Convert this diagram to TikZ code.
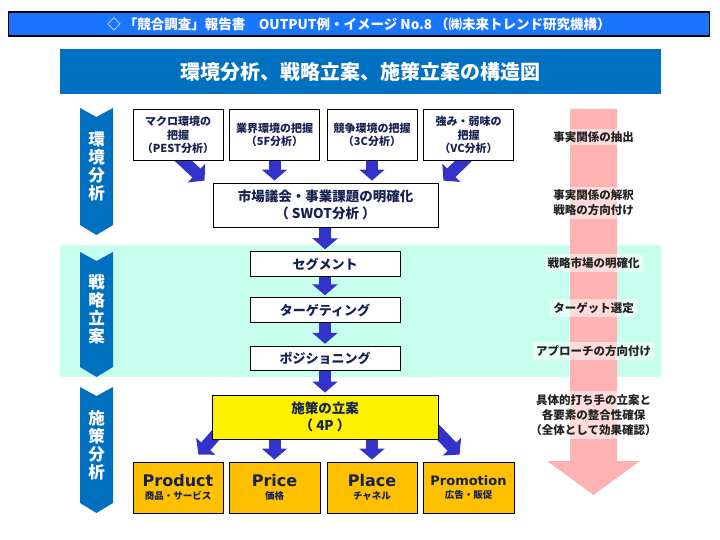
\documentclass[tikz,border=0pt]{standalone}
\usepackage{fontspec}
\setmainfont{Noto Sans CJK JP}
\newfontfamily\latinfont{DejaVu Sans}
\usetikzlibrary{arrows.meta,backgrounds}

\definecolor{hdrblue}{RGB}{26,117,255}
\definecolor{titleblue}{RGB}{0,112,192}
\definecolor{arrblue}{RGB}{51,51,204}
\definecolor{bandcyan}{RGB}{198,255,238}
\definecolor{pinkarr}{RGB}{255,178,178}
\definecolor{boxtext}{RGB}{22,34,84}
\definecolor{labeltext}{RGB}{34,34,34}
\definecolor{fourp}{RGB}{255,192,0}

\tikzset{
    stepbox/.style={draw=black, line width=0.9pt, fill=white, text=boxtext, align=center,
        inner sep=2pt, font=\bfseries\fontsize{11}{13.5}\selectfont},
    smallbox/.style={stepbox, minimum width=90pt, minimum height=51pt},
    widebox/.style={stepbox, minimum width=225pt, minimum height=44pt, font=\bfseries\fontsize{13.5}{17}\selectfont},
    stpbox/.style={stepbox, minimum width=150pt, minimum height=24.5pt, font=\bfseries\fontsize{13}{15}\selectfont},
    pbox/.style={smallbox, fill=fourp},
    sidelabel/.style={fill=white, fill opacity=0.55, text opacity=1, text=labeltext, align=center,
        inner sep=3pt, font=\bfseries\fontsize{11.5}{15}\selectfont},
    blkarrow/.style={arrblue, line width=12pt, -{Triangle[width=25pt,length=11pt]}},
    sectext/.style={text=white, align=center, font=\bfseries\fontsize{16.5}{18}\selectfont}
}

\begin{document}
\begin{tikzpicture}[x=1pt,y=-1pt]
    \useasboundingbox (0,0) rectangle (720,540);

    % header and title
    \node[draw=black, line width=1.2pt, fill=hdrblue, minimum width=701pt, minimum height=24pt,
        text=white, font=\bfseries\fontsize{13.5}{15}\selectfont] (hdr) at (359,24)
        {◇ 「競合調査」報告書　OUTPUT例・イメージ No.8 （㈱未来トレンド研究機構）};
    \node[fill=titleblue, minimum width=601pt, minimum height=45pt, text=white,
        font=\bfseries\fontsize{20}{22}\selectfont] (title) at (360.5,71.5)
        {環境分析、戦略立案、施策立案の構造図};

    % band and pink arrow
    \begin{scope}[on background layer]
        \fill[bandcyan] (60,245) rectangle (661,377);
        \fill[pinkarr] (570,109) -- (617,109) -- (617,461) -- (640,461) -- (593.5,495)
            -- (547,461) -- (570,461) -- cycle;
    \end{scope}

    % section arrows on the left
    \foreach \yt/\yb/\yc/\nm/\txt in {108/235/166/env/{環\\境\\分\\析},
            252/377/309/strat/{戦\\略\\立\\案}, 387/513/445/meas/{施\\策\\分\\析}} {
        \fill[titleblue] (80,\yt) -- (96.5,{\yt+9}) -- (113,\yt) -- (113,{\yb-10})
            -- (96.5,\yb) -- (80,{\yb-10}) -- cycle;
        \node[sectext] (\nm) at (96.5,\yc) {\txt};
    }

    % environment analysis
    \node[smallbox] (pest) at (178,135) {マクロ環境の\\把握\\（PEST分析）};
    \node[smallbox] (fivef) at (274.5,135) {業界環境の把握\\（5F分析）};
    \node[smallbox] (threec) at (372,135) {競争環境の把握\\（3C分析）};
    \node[smallbox] (vc) at (468.5,135) {強み・弱味の\\把握\\（VC分析）};
    \node[widebox] (swot) at (325.5,205) {市場議会・事業課題の明確化\\（ SWOT分析 ）};

    % strategy
    \node[stpbox] (seg) at (325,264) {セグメント};
    \node[stpbox] (targ) at (325,310) {ターゲティング};
    \node[stpbox] (posi) at (325,358.5) {ポジショニング};

    % measures
    \node[widebox, fill=yellow, minimum width=226pt] (plan) at (325,417) {施策の立案\\（ 4P ）};
    \node[pbox] (prod) at (178,487.5) {{\latinfont\fontsize{16}{19}\selectfont Product}\\
        {\fontsize{9.5}{11}\selectfont 商品・サービス}};
    \node[pbox, minimum width=91pt] (price) at (274.5,487.5) {{\latinfont\fontsize{16}{19}\selectfont Price}\\
        {\fontsize{9.5}{11}\selectfont 価格}};
    \node[pbox] (place) at (372,487.5) {{\latinfont\fontsize{16}{19}\selectfont Place}\\
        {\fontsize{9.5}{11}\selectfont チャネル}};
    \node[pbox, minimum width=91pt] (promo) at (468.5,487.5) {{\latinfont\fontsize{13}{16}\selectfont Promotion}\\
        {\fontsize{9.5}{11}\selectfont 広告・販促}};

    % labels on the pink arrow
    \node[sidelabel] (l1) at (593.5,137) {事実関係の抽出};
    \node[sidelabel] (l2) at (593.5,203) {事実関係の解釈\\戦略の方向付け};
    \node[sidelabel] (l3) at (593.5,263) {戦略市場の明確化};
    \node[sidelabel] (l4) at (593.5,308) {ターゲット選定};
    \node[sidelabel] (l5) at (593.5,351) {アプローチの方向付け};
    \node[sidelabel] (l6) at (593.5,415) {具体的打ち手の立案と\\各要素の整合性確保\\（全体として効果確認）};

    % block arrows
    \begin{scope}[on background layer]
        \draw[blkarrow] ([yshift=5pt]pest.south) -- ([xshift=-8pt,yshift=2pt]swot.north west);
        \draw[blkarrow] (fivef.center) -- ([yshift=2pt]swot.north -| fivef.south);
        \draw[blkarrow] (threec.center) -- ([yshift=2pt]swot.north -| threec.south);
        \draw[blkarrow] ([yshift=5pt]vc.south) -- ([xshift=5pt,yshift=2pt]swot.north east);
        \draw[blkarrow] (swot.center) -- ([yshift=2pt]seg.north);
        \draw[blkarrow] (seg.center) -- ([yshift=2pt]targ.north);
        \draw[blkarrow] (targ.center) -- ([yshift=2pt]posi.north);
        \draw[blkarrow] (posi.center) -- ([yshift=2pt]plan.north);
        \draw[blkarrow] ([xshift=10pt,yshift=11pt]plan.south west) -- ([xshift=-25pt,yshift=7pt]prod.north east);
        \draw[blkarrow] (plan.center -| price.north) -- ([yshift=2pt]price.north);
        \draw[blkarrow] (plan.center -| place.north) -- ([yshift=2pt]place.north);
        \draw[blkarrow] ([xshift=-4pt,yshift=11pt]plan.south east) -- ([xshift=37pt,yshift=7pt]promo.north west);
    \end{scope}
\end{tikzpicture}
\end{document}
